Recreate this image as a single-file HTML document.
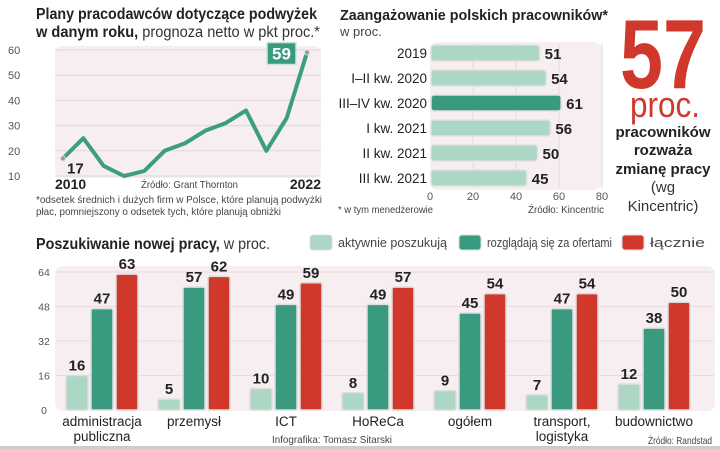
<!DOCTYPE html>
<html><head><meta charset="utf-8">
<style>
body{margin:0;background:#fff;width:720px;height:449px;overflow:hidden}
svg{display:block}
text{font-family:"Liberation Sans Narrow","Liberation Sans",sans-serif}
.b{font-weight:bold}
</style></head>
<body>
<svg id="svg" width="720" height="449" viewBox="0 0 720 449" xmlns="http://www.w3.org/2000/svg">
<!-- top-left chart -->
<g>
<text x="36" y="19" font-size="15.5" class="b" fill="#222" textLength="281" lengthAdjust="spacingAndGlyphs">Plany pracodawców dotyczące podwyżek</text>
<text x="36" y="37" font-size="15.5" fill="#333" textLength="284" lengthAdjust="spacingAndGlyphs"><tspan class="b" fill="#222">w danym roku,</tspan> prognoza netto w pkt proc.*</text>
<rect x="55" y="46" width="266" height="132" rx="8" fill="#f6eef0"/>
<g id="lineGrid"></g>
<path id="linePath" fill="none" stroke="#3c9e80" stroke-width="4" stroke-linejoin="round"/>
<g id="lineExtras"></g>
<text x="55" y="189" font-size="14" class="b" fill="#222">2010</text>
<text x="321" y="189" font-size="14" class="b" fill="#222" text-anchor="end">2022</text>
<text x="141" y="188" font-size="10.5" fill="#444" textLength="97" lengthAdjust="spacingAndGlyphs">Źródło: Grant Thornton</text>
<text x="36" y="203" font-size="10.5" fill="#444" textLength="286" lengthAdjust="spacingAndGlyphs">*odsetek średnich i dużych firm w Polsce, które planują podwyżki</text>
<text x="36" y="215" font-size="10.5" fill="#444" textLength="245" lengthAdjust="spacingAndGlyphs">płac, pomniejszony o odsetek tych, które planują obniżki</text>
</g>
<!-- top-middle chart -->
<g>
<text x="340" y="20" font-size="15" class="b" fill="#222" textLength="268" lengthAdjust="spacingAndGlyphs">Zaangażowanie polskich pracowników*</text>
<text x="340" y="36" font-size="13" fill="#444">w proc.</text>
<rect x="430" y="42" width="172" height="148" rx="8" fill="#f6eef0"/>
<g id="hbars"></g>
<text x="338" y="213" font-size="10.5" fill="#444" textLength="95" lengthAdjust="spacingAndGlyphs">* w tym menedżerowie</text>
<text x="528" y="213" font-size="10.5" fill="#444" textLength="76" lengthAdjust="spacingAndGlyphs">Źródło: Kincentric</text>
</g>
<!-- big number -->
<g>
<text x="620" y="88" font-size="98" class="b" fill="#d0382b" textLength="86" lengthAdjust="spacingAndGlyphs">57</text>
<text x="630" y="117" font-size="36" fill="#d0382b" textLength="70" lengthAdjust="spacingAndGlyphs">proc.</text>
<text x="663" y="137" font-size="15" class="b" fill="#222" text-anchor="middle">pracowników</text>
<text x="663" y="155" font-size="15" class="b" fill="#222" text-anchor="middle">rozważa</text>
<text x="663" y="174" font-size="15" class="b" fill="#222" text-anchor="middle">zmianę pracy</text>
<text x="663" y="192" font-size="15" fill="#333" text-anchor="middle">(wg</text>
<text x="663" y="211" font-size="15" fill="#333" text-anchor="middle">Kincentric)</text>
</g>
<!-- bottom chart -->
<g>
<text x="36" y="249" font-size="15.5" fill="#333" textLength="234" lengthAdjust="spacingAndGlyphs"><tspan class="b" fill="#222">Poszukiwanie nowej pracy,</tspan> w proc.</text>
<g>
<rect x="310" y="235" width="22" height="15" rx="3" fill="#acd7c5" stroke="#ddd"/>
<text x="338" y="247" font-size="13" fill="#444" textLength="109" lengthAdjust="spacingAndGlyphs">aktywnie poszukują</text>
<rect x="459" y="235" width="22" height="15" rx="3" fill="#3a9a80" stroke="#ddd"/>
<text x="487" y="247" font-size="13" fill="#444" textLength="125" lengthAdjust="spacingAndGlyphs">rozglądają się za ofertami</text>
<rect x="622" y="235" width="22" height="15" rx="3" fill="#d0382b" stroke="#ddd"/>
<text x="650" y="247" font-size="13" fill="#444" textLength="55" lengthAdjust="spacingAndGlyphs">łącznie</text>
</g>
<rect x="55" y="266" width="660" height="145" rx="8" fill="#f6eef0"/>
<g id="vbars"></g>
<text x="272" y="443" font-size="10.5" fill="#444" textLength="120" lengthAdjust="spacingAndGlyphs">Infografika: Tomasz Sitarski</text>
<text x="648" y="444" font-size="10.5" fill="#444" textLength="64" lengthAdjust="spacingAndGlyphs">Źródło: Randstad</text>
</g>
<rect x="0" y="446" width="720" height="3" fill="#ccc"/>
</svg>
<script>
const NS="http://www.w3.org/2000/svg";
const lineYears=[2010,2011,2012,2013,2014,2015,2016,2017,2018,2019,2020,2021,2022];
const lineValues=[17,25,14,10,12,20,23,28,31,36,20,33,59];
const lineTicks=[10,20,30,40,50,60];
const hCats=["2019","I–II kw. 2020","III–IV kw. 2020","I kw. 2021","II kw. 2021","III kw. 2021"];
const hValues=[51,54,61,56,50,45];
const hTicks=[0,20,40,60,80];
const vCats=[["administracja","publiczna"],["przemysł"],["ICT"],["HoReCa"],["ogółem"],["transport,","logistyka"],["budownictwo"]];
const vActive=[16,5,10,8,9,7,12];
const vBrowsing=[47,57,49,49,45,47,38];
const vTotal=[63,62,59,57,54,54,50];
const vTicks=[0,16,32,48,64];

function mk(tag,attrs,parent,txt){const e=document.createElementNS(NS,tag);for(const k in attrs)e.setAttribute(k,attrs[k]);if(txt!==undefined)e.textContent=txt;parent.appendChild(e);return e;}

// line chart
const lx=i=>63+i*(307-63)/(lineYears.length-1);
const ly=v=>176-(v-10)*2.52;
const lg=document.getElementById('lineGrid');
lineTicks.forEach(t=>{
  const l=mk('line',{x1:55,x2:321,y1:ly(t),y2:ly(t),stroke:'#e3d6da','stroke-width':1},lg);
  
  
  const tx=mk('text',{x:8,y:ly(t)+4,'font-size':11,fill:'#555'},lg,String(t));
  
  
});
document.getElementById('linePath').setAttribute('d',lineValues.map((v,i)=>(i?'L':'M')+lx(i)+' '+ly(v)).join(' '));
const le=document.getElementById('lineExtras');
[0,lineValues.length-1].forEach(i=>{
  const c=mk('circle',{cx:lx(i),cy:ly(lineValues[i]),r:2.5,fill:'#999',stroke:'#ddd'},le);
  
  
});
const t17=mk('text',{x:lx(0)+4,y:ly(lineValues[0])+15,'font-size':15,'font-weight':'bold',fill:'#222'},le,String(lineValues[0]));


const last=lineValues.length-1;
const bx=mk('rect',{x:lx(last)-40,y:ly(lineValues[last])-10,width:29,height:22,fill:'#3a9a80',stroke:'#cfe5dc','stroke-width':1.5},le);


const t59=mk('text',{x:lx(last)-25.5,y:ly(lineValues[last])+7,'font-size':17,'font-weight':'bold',fill:'#fff','text-anchor':'middle'},le,String(lineValues[last]));



// horizontal bars
const hx=v=>430+v*2.15;
const hy=i=>53+i*25;
const hg=document.getElementById('hbars');
hTicks.forEach(t=>{
  if(t>0){const l=mk('line',{x1:hx(t),x2:hx(t),y1:44,y2:188,stroke:'#e6dadd'},hg);
  
  }
  const tx=mk('text',{x:hx(t),y:200,'font-size':11,fill:'#555','text-anchor':'middle'},hg,String(t));
  
  
});
hCats.forEach((c,i)=>{
  const hi=i===2;
  const r=mk('rect',{x:431,y:hy(i)-8,width:hx(hValues[i])-431,height:16,rx:3,fill:hi?'#3a9a80':'#acd7c5',stroke:'#e0e0e0','stroke-width':1.5},hg);
  
  
  const lb=mk('text',{x:427,y:hy(i)+5,'font-size':13.5,fill:'#222','text-anchor':'end'},hg,c);
  
  
  const vl=mk('text',{x:hx(hValues[i])+5,y:hy(i)+6,'font-size':15,'font-weight':'bold',fill:'#222'},hg,String(hValues[i]));
  
  
});

// vertical grouped bars
const vy=v=>410-v*2.156;
const gx=i=>66+i*92;
const vg=document.getElementById('vbars');
vTicks.forEach(t=>{
  if(t>0){const l=mk('line',{x1:56,x2:714,y1:vy(t),y2:vy(t),stroke:'#ead9dd'},vg);
  
  }
  const tx=mk('text',{x:44,y:vy(t)+4,'font-size':10.5,fill:'#555','text-anchor':'middle'},vg,String(t));
  
  
});
const series=[[vActive,'#acd7c5','bar-active'],[vBrowsing,'#3a9a80','bar-browsing'],[vTotal,'#d0382b','bar-total']];
vCats.forEach((c,i)=>{
  series.forEach((s,j)=>{
    const v=s[0][i];const x=gx(i)+j*25;
    const r=mk('rect',{x:x,y:vy(v),width:22,height:410-vy(v),rx:2,fill:s[1],stroke:'#ddd','stroke-width':1.5},vg);
    
    
    const t=mk('text',{x:x+11,y:vy(v)-5,'font-size':15,'font-weight':'bold',fill:'#222','text-anchor':'middle'},vg,String(v));
    
    
  });
  c.forEach((ln,k)=>{
    const t=mk('text',{x:gx(i)+36,y:426+k*15,'font-size':13.5,fill:'#222','text-anchor':'middle'},vg,ln);
    
    
  });
});
</script>
</body></html>
